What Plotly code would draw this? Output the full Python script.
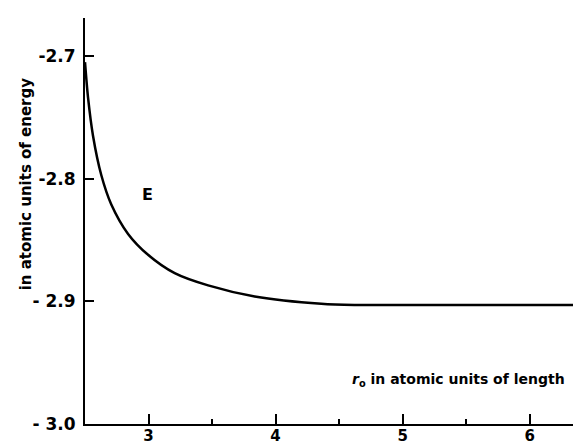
import plotly.graph_objects as go

r0 = [2.5, 2.524, 2.563, 2.628, 2.707, 2.839, 2.996, 3.206, 3.469, 3.836, 4.36, 4.62, 5.0, 5.5, 6.0, 6.42]
energy = [-2.705, -2.734, -2.765, -2.797, -2.821, -2.845, -2.862, -2.877, -2.887, -2.896, -2.902, -2.903, -2.903, -2.903, -2.903, -2.903]

x_ticks = [3, 4, 5, 6]
x_ticklabels = ["3", "4", "5", "6"]
x_minor = [3.5, 4.5, 5.5]
y_ticks = [-3.0, -2.9, -2.8, -2.7]
y_ticklabels = ["- 3.0", "- 2.9", "-2.8", "-2.7"]

FONT = "DejaVu Sans"
W, H = 581, 443
ML, MR, MT, MB = 77, 6, 10, 18
PW = W - ML - MR
PH = H - MT - MB

fig = go.Figure()
fig.add_trace(go.Scatter(x=r0, y=energy, mode="lines",
                         line=dict(color="black", width=2.5, shape="spline", smoothing=0.8),
                         showlegend=False, hoverinfo="skip"))

fig.add_annotation(x=2.99, y=-2.813, text="<b>E</b>", showarrow=False,
                   font=dict(family=FONT, size=16, color="black"))
fig.add_annotation(x=(450 - ML) / PW, y=(H - MB - 380) / PH, xref="paper", yref="paper",
                   xanchor="center", yanchor="middle",
                   text="<i>r</i><sub>o</sub> in atomic units of length", showarrow=False,
                   font=dict(family=FONT, size=14, color="black", weight="bold"))
fig.add_annotation(x=(18 - ML) / PW, y=(H - MB - 180) / PH, xref="paper", yref="paper",
                   xanchor="center", yanchor="middle",
                   text="<b>in atomic units of energy</b>", showarrow=False, textangle=-90,
                   font=dict(family=FONT, size=15, color="black"))

fig.update_layout(
    width=W, height=H,
    margin=dict(l=ML, r=MR, t=MT, b=MB),
    paper_bgcolor="white", plot_bgcolor="white",
    font=dict(family=FONT, size=15, color="black"),
    xaxis=dict(range=[2.5, 6.42], tickvals=x_ticks, ticktext=x_ticklabels,
               ticks="inside", ticklen=10, tickwidth=1.5, tickcolor="black",
               showline=True, linewidth=2, linecolor="black", showgrid=False, zeroline=False,
               ticklabelstandoff=-3,
               tickfont=dict(family=FONT, size=15, color="black", weight="bold"),
               minor=dict(tickvals=x_minor, ticks="inside", ticklen=5, tickwidth=1.5, tickcolor="black",
                          showgrid=False)),
    yaxis=dict(range=[-3.0, -2.669], tickvals=y_ticks, ticktext=y_ticklabels,
               ticks="inside", ticklen=9, tickwidth=1.5, tickcolor="black",
               showline=True, linewidth=2, linecolor="black", showgrid=False, zeroline=False,
               ticklabelstandoff=4,
               tickfont=dict(family=FONT, size=17, color="black", weight="bold")),
)

fig.write_html("out.html")
